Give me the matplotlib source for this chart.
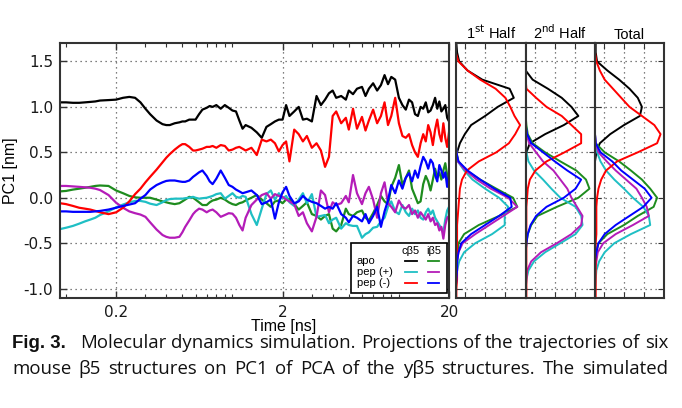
import numpy as np
import matplotlib
matplotlib.use("Agg")
import matplotlib.pyplot as plt
from matplotlib.lines import Line2D
from matplotlib.patches import Rectangle
from matplotlib.ticker import LogLocator, NullFormatter

# trajectories, PC1 [nm] vs time [ns]
time_ns = [0.092, 0.1, 0.11, 0.12, 0.13, 0.14, 0.15, 0.16, 0.18, 0.2,
           0.22, 0.24, 0.26, 0.28, 0.3, 0.32, 0.35, 0.38, 0.4, 0.42,
           0.45, 0.48, 0.5, 0.52, 0.55, 0.58, 0.6, 0.63, 0.66, 0.7,
           0.73, 0.76, 0.8, 0.85, 0.9, 0.95, 1.0, 1.05, 1.1, 1.15,
           1.2, 1.3, 1.4, 1.5, 1.6, 1.7, 1.8, 1.9, 2.0, 2.1,
           2.2, 2.35, 2.5, 2.65, 2.8, 3.0, 3.2, 3.4, 3.6, 3.8,
           4.0, 4.2, 4.5, 4.8, 5.0, 5.3, 5.6, 6.0, 6.3, 6.6,
           7.0, 7.4, 7.8, 8.2, 8.6, 9.0, 9.5, 10, 10.5, 11,
           11.5, 12, 12.5, 13, 13.5, 14, 14.5, 15, 15.5, 16,
           16.5, 17, 17.5, 18, 18.5, 19, 19.5, 20]

apo_c = [1.05, 1.05, 1.045, 1.045, 1.05, 1.055, 1.06, 1.07, 1.075, 1.08,
         1.10, 1.11, 1.10, 1.05, 0.98, 0.92, 0.85, 0.81, 0.80, 0.80,
         0.82, 0.83, 0.84, 0.84, 0.86, 0.86, 0.86, 0.92, 0.97, 0.99,
         1.01, 1.00, 1.02, 0.98, 1.02, 0.99, 0.96, 0.95, 0.85, 0.76,
         0.80, 0.77, 0.72, 0.66, 0.78, 0.81, 0.84, 0.86, 0.86, 1.02,
         0.90, 0.95, 1.00, 0.86, 0.87, 0.84, 1.12, 1.02, 1.08, 1.15,
         1.18, 1.10, 1.12, 1.08, 1.18, 1.14, 1.20, 1.22, 1.12, 1.20,
         1.26, 1.18, 1.24, 1.35, 1.25, 1.33, 1.30, 1.10, 1.02, 0.97,
         1.08, 1.05, 0.92, 0.90, 1.00, 0.98, 1.05, 0.94, 0.96, 1.02,
         1.10, 0.98, 1.06, 0.95, 0.98, 1.02, 0.88, 0.84]

apo_i = [0.07, 0.075, 0.09, 0.10, 0.11, 0.12, 0.13, 0.135, 0.13, 0.08,
         0.05, 0.02, 0.005, 0.0, 0.0, 0.0, -0.02, -0.04, -0.05, -0.06,
         -0.07, -0.06, -0.04, -0.02, 0.01, 0.0, -0.02, -0.05, -0.08, -0.08,
         -0.05, -0.03, -0.02, 0.0, -0.02, -0.05, -0.07, -0.08, -0.06, -0.05,
         -0.03, 0.0, 0.03, -0.02, -0.06, -0.10, -0.04, -0.03, -0.06, -0.02,
         -0.01, -0.07, -0.13, -0.09, -0.05, -0.18, -0.20, -0.24, -0.20, -0.18,
         -0.34, -0.37, -0.30, -0.12, -0.18, -0.20, -0.16, -0.14, -0.22, -0.25,
         -0.17, -0.08, 0.02, -0.04, -0.07, 0.12, 0.22, 0.36, 0.14, 0.22,
         0.30, 0.10, 0.02, -0.06, -0.04, 0.15, 0.24, 0.18, 0.08, 0.20,
         0.32, 0.22, 0.28, 0.20, 0.30, 0.38, 0.25, 0.18]

pepp_c = [-0.345, -0.33, -0.31, -0.285, -0.26, -0.24, -0.22, -0.19, -0.15, -0.105,
          -0.075, -0.05, -0.035, -0.035, -0.045, -0.065, -0.08, -0.05, -0.025, -0.015,
          -0.01, -0.01, -0.01, -0.005, 0.0, 0.01, 0.0, -0.01, -0.005, 0.0,
          0.01, 0.02, 0.04, 0.05, -0.01, 0.02, 0.05, 0.01, 0.0, 0.02,
          0.01, -0.18, -0.30, -0.12, 0.04, 0.08, -0.02, 0.05, -0.01, 0.02,
          -0.05, -0.09, -0.02, 0.05, -0.06, 0.04, -0.21, -0.20, -0.19, -0.28,
          -0.24, -0.22, -0.34, -0.28, -0.30, -0.31, -0.31, -0.44, -0.40, -0.38,
          -0.33, -0.32, -0.26, -0.22, -0.10, -0.04, -0.15, -0.18, -0.08, -0.16,
          -0.20, -0.12, -0.18, -0.14, -0.22, -0.24, -0.16, -0.12, -0.18, -0.14,
          -0.22, -0.26, -0.30, -0.34, -0.38, -0.24, -0.14, -0.10]

pepp_i = [0.13, 0.13, 0.125, 0.12, 0.115, 0.11, 0.10, 0.085, 0.03, -0.055,
          -0.11, -0.15, -0.17, -0.185, -0.21, -0.27, -0.35, -0.41, -0.43, -0.44,
          -0.44, -0.43, -0.38, -0.32, -0.25, -0.18, -0.15, -0.12, -0.13, -0.16,
          -0.14, -0.13, -0.16, -0.21, -0.19, -0.17, -0.175, -0.22, -0.30, -0.36,
          -0.22, -0.08, -0.02, 0.03, 0.05, -0.01, 0.04, 0.02, 0.01, -0.02,
          -0.04, -0.07, -0.20, -0.16, -0.28, -0.37, -0.21, 0.08, 0.03, -0.16,
          -0.05, -0.08, -0.06, 0.02, -0.05, 0.25, 0.05, -0.07, 0.05, 0.12,
          -0.02, -0.22, 0.05, 0.17, -0.06, -0.10, -0.16, -0.03, -0.10, -0.12,
          -0.08, -0.18, -0.14, -0.22, -0.16, -0.20, -0.24, -0.18, -0.26, -0.22,
          -0.30, -0.28, -0.36, -0.32, -0.45, -0.30, -0.22, -0.20]

pepm_c = [-0.06, -0.07, -0.09, -0.11, -0.12, -0.13, -0.145, -0.16, -0.18, -0.16,
          -0.11, -0.04, 0.04, 0.10, 0.17, 0.23, 0.31, 0.39, 0.44, 0.48,
          0.53, 0.57, 0.59, 0.59, 0.56, 0.52, 0.52, 0.53, 0.54, 0.56,
          0.56, 0.57, 0.55, 0.58, 0.57, 0.52, 0.53, 0.55, 0.56, 0.54,
          0.52, 0.55, 0.47, 0.64, 0.62, 0.64, 0.60, 0.51, 0.58, 0.62,
          0.40, 0.75, 0.70, 0.62, 0.68, 0.55, 0.60, 0.52, 0.34, 0.45,
          0.90, 0.95, 0.82, 0.88, 0.75, 0.98, 0.76, 0.89, 0.74, 0.85,
          0.97, 0.82, 0.90, 1.05, 0.80, 0.90, 1.10, 0.82, 0.68, 0.66,
          0.70, 0.58, 0.50, 0.45, 0.60, 0.70, 0.62, 0.80, 0.72, 0.58,
          0.75, 0.86, 0.70, 0.62, 0.82, 0.66, 0.56, 0.72]

pepm_i = [-0.15, -0.15, -0.155, -0.155, -0.155, -0.155, -0.15, -0.145, -0.13, -0.11,
          -0.09, -0.075, -0.06, -0.01, 0.03, 0.09, 0.14, 0.17, 0.185, 0.19,
          0.19, 0.18, 0.175, 0.175, 0.19, 0.23, 0.25, 0.28, 0.30, 0.24,
          0.18, 0.15, 0.21, 0.30, 0.22, 0.14, 0.12, 0.09, 0.07, 0.05,
          0.06, 0.08, 0.03, -0.07, -0.05, -0.02, -0.23, -0.05, 0.06, 0.12,
          0.02, -0.06, -0.04, 0.02, -0.02, -0.045, -0.06, -0.09, -0.12, -0.10,
          -0.12, -0.06, -0.18, -0.22, -0.27, -0.20, -0.22, -0.26, -0.18, -0.28,
          -0.20, -0.10, -0.32, -0.15, -0.03, 0.14, 0.05, 0.19, 0.10, 0.22,
          0.27, 0.18, 0.30, 0.22, 0.35, 0.45, 0.40, 0.32, 0.42, 0.38,
          0.25, 0.18, 0.36, 0.30, 0.22, 0.28, 0.12, 0.25]

# PC1 distributions (relative density), bins -1.1 .. 1.7
pc1_bins = [-1.1, -1.0, -0.9, -0.8, -0.7, -0.6, -0.5, -0.4, -0.3, -0.2,
            -0.1, 0.0, 0.1, 0.2, 0.3, 0.4, 0.5, 0.6, 0.7, 0.8,
            0.9, 1.0, 1.1, 1.2, 1.3, 1.4, 1.5, 1.6, 1.7]

h1_apo_c = [0, 0, 0, 0, 0, 0, 0, 0, 0, 0, 0, 0, 0, 0, 0, 0.0, 0.02, 0.06, 0.13, 0.22,
            0.42, 0.60, 0.83, 0.77, 0.38, 0.17, 0.05, 0.02, 0.01]
h1_apo_i = [0, 0, 0, 0.01, 0.02, 0.03, 0.04, 0.12, 0.33, 0.62, 0.88, 0.82, 0.58, 0.35, 0.15,
            0.04, 0.01, 0, 0, 0, 0, 0, 0, 0, 0, 0, 0, 0, 0]
h1_pepp_c = [0, 0.0, 0.01, 0.02, 0.05, 0.12, 0.28, 0.52, 0.70, 0.70, 0.75, 0.62, 0.42, 0.24,
             0.12, 0.03, 0.01, 0, 0, 0, 0, 0, 0, 0, 0, 0, 0, 0, 0]
h1_pepp_i = [0, 0.0, 0.01, 0.02, 0.02, 0.04, 0.10, 0.28, 0.48, 0.68, 0.88, 0.75, 0.50, 0.30,
             0.14, 0.03, 0.01, 0, 0, 0, 0, 0, 0, 0, 0, 0, 0, 0, 0]
h1_pepm_c = [0.01, 0.01, 0.02, 0.02, 0.02, 0.02, 0.02, 0.02, 0.02, 0.03, 0.04, 0.05, 0.06, 0.09,
             0.16, 0.33, 0.58, 0.76, 0.85, 0.92, 0.84, 0.78, 0.71, 0.57, 0.35, 0.17, 0.04, 0.0, 0.0]
h1_pepm_i = [0, 0.0, 0.01, 0.02, 0.02, 0.04, 0.08, 0.22, 0.42, 0.62, 0.80, 0.78, 0.55, 0.35,
             0.17, 0.04, 0.01, 0, 0, 0, 0, 0, 0, 0, 0, 0, 0, 0, 0]

h2_apo_c = [0, 0, 0, 0, 0, 0, 0, 0, 0, 0, 0, 0, 0, 0, 0, 0.0, 0.01, 0.06, 0.28, 0.55,
            0.76, 0.66, 0.52, 0.32, 0.10, 0.0, 0, 0, 0]
h2_apo_i = [0, 0, 0, 0, 0, 0.0, 0.01, 0.03, 0.08, 0.17, 0.45, 0.76, 0.92, 0.87, 0.73,
            0.50, 0.28, 0.10, 0.03, 0.01, 0, 0, 0, 0, 0, 0, 0, 0, 0]
h2_pepp_c = [0, 0.0, 0.01, 0.04, 0.12, 0.28, 0.50, 0.72, 0.82, 0.80, 0.72, 0.50, 0.37, 0.25,
             0.12, 0.04, 0.01, 0, 0, 0, 0, 0, 0, 0, 0, 0, 0, 0, 0]
h2_pepp_i = [0, 0.0, 0.01, 0.02, 0.08, 0.22, 0.45, 0.66, 0.80, 0.82, 0.74, 0.66, 0.60, 0.50,
             0.40, 0.25, 0.15, 0.05, 0.01, 0, 0, 0, 0, 0, 0, 0, 0, 0, 0]
h2_pepm_c = [0.01, 0.01, 0.01, 0.01, 0.01, 0.01, 0.01, 0.01, 0.01, 0.01, 0.01, 0.02, 0.03, 0.06,
             0.14, 0.30, 0.56, 0.80, 0.80, 0.66, 0.52, 0.30, 0.15, 0.01, 0, 0, 0, 0, 0]
h2_pepm_i = [0, 0, 0, 0, 0, 0.0, 0.01, 0.03, 0.07, 0.15, 0.30, 0.55, 0.72, 0.80, 0.60,
             0.42, 0.25, 0.08, 0.02, 0, 0, 0, 0, 0, 0, 0, 0, 0, 0]

h3_apo_c = [0, 0, 0, 0, 0, 0, 0, 0, 0, 0, 0, 0, 0, 0, 0, 0.0, 0.02, 0.07, 0.22, 0.42,
            0.65, 0.68, 0.62, 0.50, 0.35, 0.18, 0.03, 0.01, 0.01]
h3_apo_i = [0, 0, 0, 0, 0, 0.02, 0.05, 0.18, 0.42, 0.62, 0.85, 0.90, 0.80, 0.68, 0.52,
            0.35, 0.14, 0.01, 0, 0, 0, 0, 0, 0, 0, 0, 0, 0, 0]
h3_pepp_c = [0, 0, 0.01, 0.02, 0.06, 0.14, 0.28, 0.52, 0.80, 0.78, 0.70, 0.55, 0.42, 0.28,
             0.16, 0.08, 0.03, 0.0, 0, 0, 0, 0, 0, 0, 0, 0, 0, 0, 0]
h3_pepp_i = [0, 0, 0, 0, 0.02, 0.04, 0.12, 0.30, 0.55, 0.78, 0.75, 0.68, 0.60, 0.45,
             0.30, 0.17, 0.05, 0.01, 0, 0, 0, 0, 0, 0, 0, 0, 0, 0, 0]
h3_pepm_c = [0.01, 0.01, 0.01, 0.01, 0.01, 0.01, 0.01, 0.02, 0.02, 0.02, 0.02, 0.03, 0.05, 0.09,
             0.16, 0.32, 0.62, 0.90, 0.95, 0.86, 0.68, 0.50, 0.38, 0.26, 0.14, 0.07, 0.02, 0, 0]
h3_pepm_i = [0, 0, 0, 0, 0, 0.02, 0.05, 0.14, 0.30, 0.50, 0.70, 0.82, 0.72, 0.55, 0.38,
             0.25, 0.08, 0.01, 0, 0, 0, 0, 0, 0, 0, 0, 0, 0, 0]

panel_titles = [r"1$^{\rm st}$ Half", r"2$^{\rm nd}$ Half", "Total"]
row_names = ["apo", "pep (+)", "pep (-)"]
caption_1 = ["Molecular", "dynamics", "simulation.", "Projections", "of", "the",
             "trajectories", "of", "six"]
caption_2 = ["mouse", "β5", "structures", "on", "PC1", "of", "PCA", "of", "the", "yβ5",
             "structures.", "The", "simulated"]

c_black, c_green, c_cyan = "black", "#1e8c1e", "#1fbfc4"
c_mag, c_red, c_blue = "#b41cb8", "#ff0000", "#0000ff"
cols_c = [c_black, c_cyan, c_red]
cols_i = [c_green, c_mag, c_blue]

W, H = 682, 408
fig = plt.figure(figsize=(W / 100, H / 100), dpi=100)
plt.rcParams["font.family"] = ["DejaVu Sans"]
arial = ["Liberation Sans", "DejaVu Sans"]


def px_axes(x0, y0, x1, y1):
    return fig.add_axes([x0 / W, 1 - y1 / H, (x1 - x0) / W, (y1 - y0) / H])


spine_col = "#333333"
ylim = (-1.1, 1.7)
yticks = [-1.0, -0.5, 0.0, 0.5, 1.0, 1.5]

ax = px_axes(60, 43.3, 449, 297.7)
lw = 1.6
ax.plot(time_ns, apo_c, color=c_black, lw=lw)
ax.plot(time_ns, apo_i, color=c_green, lw=lw)
ax.plot(time_ns, pepp_c, color=c_cyan, lw=lw)
ax.plot(time_ns, pepp_i, color=c_mag, lw=lw)
ax.plot(time_ns, pepm_c, color=c_red, lw=lw)
ax.plot(time_ns, pepm_i, color=c_blue, lw=lw)
ax.set_xscale("log")
ax.set_xlim(0.092, 20)
ax.set_ylim(*ylim)
ax.set_xticks([0.2, 2, 20], ["0.2", "2", "20"])
ax.xaxis.set_minor_locator(LogLocator(base=10, subs=np.arange(1, 10)))
ax.xaxis.set_minor_formatter(NullFormatter())
ax.set_yticks(yticks, ["-1.0", "-0.5", "0.0", "0.5", "1.0", "1.5"])
ax.tick_params(which="both", direction="in", top=True, right=True,
               labelsize=11, color=spine_col, labelcolor="#1a1a1a", pad=5)
ax.tick_params(which="major", length=5, width=1)
ax.tick_params(which="minor", length=3, width=0.8)
ax.grid(True, which="major", linestyle=(0, (1, 3)), color="#555555", lw=0.9)
for s in ax.spines.values():
    s.set_linewidth(1.5)
    s.set_color(spine_col)
ax.set_ylabel("PC1 [nm]", fontsize=11.5, family=arial)
ax.yaxis.set_label_coords(-0.108, 0.5)
ax.set_xlabel("Time [ns]", fontsize=11.5, family=["Liberation Sans Narrow", "Liberation Sans"])
ax.xaxis.label.set_va("center")
ax.xaxis.set_label_coords((284 - 60) / 389, (297.7 - 327) / 254.4)

# legend table
ax.add_patch(Rectangle((0.748, 0.017), 0.247, 0.199, transform=ax.transAxes,
                       facecolor="white", edgecolor="black", lw=1.2, zorder=5))
ax.text(0.902, 0.182, "cβ5", transform=ax.transAxes, ha="center", va="center",
        fontsize=8, family=arial, zorder=6)
ax.text(0.961, 0.182, "iβ5", transform=ax.transAxes, ha="center", va="center",
        fontsize=8, family=arial, zorder=6)
row_y = [0.145, 0.102, 0.057]
for name, yy, cc, ci in zip(row_names, row_y, cols_c, cols_i):
    ax.text(0.763, yy, name, transform=ax.transAxes, ha="left", va="center",
            fontsize=8, family=arial, zorder=6)
    ax.add_line(Line2D([0.887, 0.918], [yy, yy], transform=ax.transAxes,
                       color=cc, lw=1.3, zorder=6))
    ax.add_line(Line2D([0.946, 0.974], [yy, yy], transform=ax.transAxes,
                       color=ci, lw=1.3, zorder=6))

# marginal distributions
panels = [
    (455.7, 525.7, [h1_apo_c, h1_apo_i, h1_pepp_c, h1_pepp_i, h1_pepm_c, h1_pepm_i]),
    (525.7, 595.0, [h2_apo_c, h2_apo_i, h2_pepp_c, h2_pepp_i, h2_pepm_c, h2_pepm_i]),
    (595.0, 664.0, [h3_apo_c, h3_apo_i, h3_pepp_c, h3_pepp_i, h3_pepm_c, h3_pepm_i]),
]
hist_cols = [c_black, c_green, c_cyan, c_mag, c_red, c_blue]
for (x0, x1, curves), title in zip(panels, panel_titles):
    pa = px_axes(x0, 43.3, x1, 297.7)
    for dens, col in zip(curves, hist_cols):
        pa.plot(dens, pc1_bins, color=col, lw=1.4)
    pa.set_xlim(0, 1)
    pa.set_ylim(*ylim)
    pa.set_yticks(yticks)
    pa.set_xticks([0.13, 0.42, 0.71])
    pa.tick_params(direction="in", top=True, right=True, labelleft=False,
                   labelbottom=False, length=4, color=spine_col)
    pa.grid(True, linestyle=(0, (1, 3)), color="#555555", lw=0.9)
    for s in pa.spines.values():
        s.set_linewidth(1.5)
        s.set_color(spine_col)
    pa.set_title(title, fontsize=10.5, pad=3, family=arial)

# caption, justified between x=12 and x=668
cap_font = ["Open Sans", "DejaVu Sans"]
renderer = fig.canvas.get_renderer()
probe = fig.text(0, 0, "Fig. 3.   " + " ".join(caption_1), fontsize=10, family=cap_font)
cap_size = 10 * 652 / probe.get_window_extent(renderer).width
probe.remove()


def justified(words, y_px, bold_first=False, first_extra=0.0):
    texts = []
    for k, w in enumerate(words):
        bold = bold_first and k == 0
        t = fig.text(0, 1 - y_px / H, w, fontsize=cap_size,
                     family=arial if bold else cap_font,
                     fontweight="bold" if bold else "normal",
                     va="baseline", ha="left", color="#111111")
        texts.append(t)
    widths = [t.get_window_extent(renderer).width for t in texts]
    gap = (668 - 12 - sum(widths) - first_extra) / (len(words) - 1)
    x = 12.0
    for k, (t, wd) in enumerate(zip(texts, widths)):
        t.set_x(x / W)
        x += wd + gap + (first_extra if k == 0 else 0)


justified(["Fig. 3."] + caption_1, 348, bold_first=True, first_extra=9)
justified(caption_2, 374)

fig.savefig("out.png", dpi=100)
